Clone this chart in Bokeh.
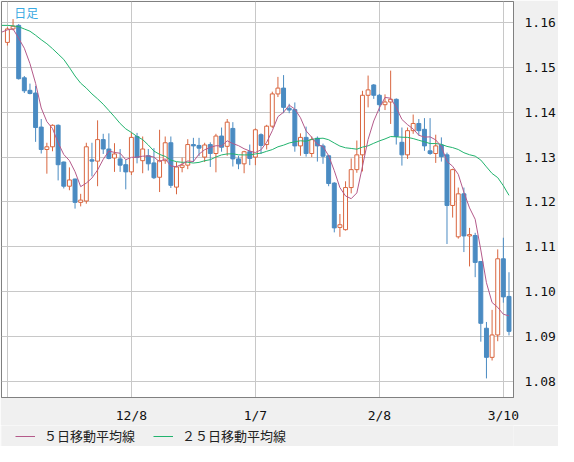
import numpy as np
from bokeh.plotting import figure
from bokeh.layouts import column
from bokeh.models import (ColumnDataSource, Range1d, FixedTicker, Legend,
                          LegendItem, Label)
from bokeh.embed import file_html
from bokeh.resources import INLINE

# ---- data (daily candles) ----
opens = [1.1556, 1.1586, 1.1594, 1.1477, 1.1449, 1.1443, 1.1367, 1.1317, 1.1323, 1.1371,
         1.1289, 1.1235, 1.1251, 1.1199, 1.1202, 1.1294, 1.1291, 1.1339, 1.1318, 1.1298,
         1.1296, 1.1283, 1.1267, 1.1346, 1.1292, 1.1303, 1.1287, 1.1255, 1.1292, 1.1332,
         1.1233, 1.1277, 1.1282, 1.1328, 1.1326, 1.1300, 1.1328, 1.1308, 1.1347, 1.1324,
         1.1364, 1.1296, 1.1285, 1.1312, 1.1300, 1.1350, 1.1328, 1.1369, 1.1441, 1.1454,
         1.1409, 1.1406, 1.1325, 1.1344, 1.1308, 1.1342, 1.1325, 1.1303, 1.1242, 1.1143,
         1.1138, 1.1232, 1.1272, 1.1305, 1.1438, 1.1461, 1.1438, 1.1417, 1.1423, 1.1429,
         1.1333, 1.1305, 1.1359, 1.1375, 1.1362, 1.1314, 1.1308, 1.1327, 1.1305, 1.1192,
         1.1122, 1.1218, 1.1124, 1.1125, 1.1067, 1.0918, 1.0853, 1.0903, 1.1073, 1.0989]
highs = [1.1590, 1.1608, 1.1597, 1.1481, 1.1464, 1.1459, 1.1385, 1.1332, 1.1373, 1.1373,
         1.1290, 1.1277, 1.1252, 1.1218, 1.1332, 1.1332, 1.1382, 1.1352, 1.1353, 1.1331,
         1.1318, 1.1294, 1.1355, 1.1354, 1.1346, 1.1318, 1.1320, 1.1361, 1.1346, 1.1346,
         1.1289, 1.1299, 1.1340, 1.1343, 1.1343, 1.1332, 1.1333, 1.1352, 1.1366, 1.1385,
         1.1378, 1.1303, 1.1314, 1.1328, 1.1364, 1.1353, 1.1372, 1.1446, 1.1479, 1.1483,
         1.1419, 1.1422, 1.1353, 1.1368, 1.1346, 1.1346, 1.1330, 1.1305, 1.1244, 1.1173,
         1.1246, 1.1297, 1.1337, 1.1448, 1.1482, 1.1463, 1.1441, 1.1440, 1.1493, 1.1431,
         1.1366, 1.1366, 1.1395, 1.1385, 1.1387, 1.1387, 1.1350, 1.1344, 1.1310, 1.1274,
         1.1232, 1.1232, 1.1142, 1.1131, 1.1067, 1.0932, 1.0959, 1.1094, 1.1120, 1.1043]
lows = [1.1549, 1.1583, 1.1473, 1.1443, 1.1440, 1.1334, 1.1308, 1.1263, 1.1313, 1.1248,
        1.1230, 1.1226, 1.1185, 1.1190, 1.1196, 1.1257, 1.1235, 1.1307, 1.1295, 1.1267,
        1.1267, 1.1228, 1.1260, 1.1286, 1.1264, 1.1270, 1.1251, 1.1222, 1.1285, 1.1231,
        1.1217, 1.1266, 1.1273, 1.1289, 1.1302, 1.1289, 1.1278, 1.1266, 1.1312, 1.1303,
        1.1279, 1.1273, 1.1264, 1.1282, 1.1282, 1.1307, 1.1317, 1.1365, 1.1434, 1.1398,
        1.1398, 1.1312, 1.1303, 1.1301, 1.1300, 1.1290, 1.1285, 1.1235, 1.1132, 1.1122,
        1.1136, 1.1219, 1.1265, 1.1268, 1.1411, 1.1430, 1.1402, 1.1405, 1.1374, 1.1328,
        1.1281, 1.1296, 1.1352, 1.1348, 1.1314, 1.1305, 1.1287, 1.1290, 1.1106, 1.1165,
        1.1118, 1.1088, 1.1056, 1.1032, 1.0888, 1.0806, 1.0846, 1.0889, 1.0975, 1.0902]
closes = [1.1586, 1.1592, 1.1475, 1.1448, 1.1442, 1.1366, 1.1317, 1.1323, 1.1371, 1.1283,
          1.1235, 1.1249, 1.1199, 1.1204, 1.1323, 1.1291, 1.1339, 1.1318, 1.1297, 1.1307,
          1.1282, 1.1267, 1.1344, 1.1299, 1.1318, 1.1285, 1.1254, 1.1292, 1.1332, 1.1237,
          1.1278, 1.1282, 1.1328, 1.1325, 1.1320, 1.1327, 1.1308, 1.1347, 1.1322, 1.1378,
          1.1296, 1.1285, 1.1312, 1.1297, 1.1361, 1.1326, 1.1369, 1.1441, 1.1454, 1.1411,
          1.1405, 1.1325, 1.1344, 1.1308, 1.1339, 1.1325, 1.1302, 1.1241, 1.1142, 1.1149,
          1.1232, 1.1272, 1.1305, 1.1438, 1.1450, 1.1438, 1.1417, 1.1423, 1.1429, 1.1346,
          1.1305, 1.1359, 1.1375, 1.1359, 1.1325, 1.1308, 1.1325, 1.1301, 1.1192, 1.1272,
          1.1218, 1.1124, 1.1127, 1.1065, 1.0929, 1.0853, 1.0903, 1.1073, 1.0988, 1.0911]

# moving-average values read from the picture where the earlier closes are off-chart
# (candle index -1 .. 3 for the 5-day line, -1 .. 23 for the 25-day line)
ma5_head = [1.1579, 1.1584, 1.1586, 1.1565, 1.1543]
ma25_head = [1.1594, 1.1594, 1.1593, 1.1591, 1.1586, 1.1581, 1.1572, 1.1562, 1.1553,
             1.1542, 1.1530, 1.1518, 1.1500, 1.1481, 1.1465, 1.1454, 1.1441, 1.1430,
             1.1418, 1.1404, 1.1390, 1.1375, 1.1363, 1.1355, 1.1346]

tick_idx = [0, 22, 44, 66, 88]
tick_labels = ["", "12/8", "1/7", "2/8", "3/10"]
price_ticks = [1.08, 1.09, 1.10, 1.11, 1.12, 1.13, 1.14, 1.15, 1.16]
legend_labels = ["５日移動平均線", "２５日移動平均線"]

ORANGE = "#d9663f"
BLUE = "#4a8bc2"
PINK = "#b45a8a"
GREEN = "#22b36e"
PANEL = "#f0f0f0"

# ---- derived ----
n = len(closes)
idx = np.arange(n)
o = np.array(opens); h = np.array(highs); l = np.array(lows); c = np.array(closes)
up = c >= o
top = np.maximum(o, c); bot = np.minimum(o, c)

def src(mask):
    return ColumnDataSource(dict(x=idx[mask], h=h[mask], l=l[mask],
                                 top=top[mask], bot=bot[mask]))

up_src, dn_src = src(up), src(~up)

ma5 = list(ma5_head) + [float(np.mean(c[i - 4:i + 1])) for i in range(4, n)]
ma25 = list(ma25_head) + [float(np.mean(c[i - 24:i + 1])) for i in range(24, n)]
ma_x = list(range(-1, n))

# ---- main chart ----
p = figure(width=558, height=425, x_range=Range1d(-1.05, 89.8),
           y_range=Range1d(1.07634, 1.16473), y_axis_location="right",
           output_backend="svg", toolbar_location=None,
           min_border_left=1, min_border_top=1, min_border_right=40,
           min_border_bottom=24)
p.background_fill_color = "white"
p.border_fill_color = PANEL
p.outline_line_color = "#808080"
p.outline_line_width = 1

p.xaxis.ticker = FixedTicker(ticks=tick_idx)
p.xgrid.ticker = FixedTicker(ticks=tick_idx)
p.xaxis.major_label_overrides = {t: s for t, s in zip(tick_idx, tick_labels)}
p.yaxis.ticker = FixedTicker(ticks=price_ticks)
p.ygrid.ticker = FixedTicker(ticks=price_ticks)
p.yaxis.major_label_overrides = {t: f"{t:.2f}" for t in price_ticks}

for ax in (p.xaxis[0], p.yaxis[0]):
    ax.major_tick_line_color = None
    ax.minor_tick_line_color = None
    ax.axis_line_color = "#808080"
    ax.major_label_text_font = "DejaVu Sans Mono"
    ax.major_label_text_font_size = "13px"
    ax.major_label_text_color = "#111111"
p.xaxis.major_label_standoff = 4
p.yaxis.major_label_standoff = 5

for g in (p.xgrid[0], p.ygrid[0]):
    g.grid_line_color = "#c8c8c8"
    g.grid_line_width = 1

# candles
p.segment(x0="x", y0="h", x1="x", y1="l", source=up_src, line_color=ORANGE, line_width=1)
p.vbar(x="x", width=0.7, top="top", bottom="bot", source=up_src,
       fill_color="white", line_color=ORANGE, line_width=1)
p.segment(x0="x", y0="h", x1="x", y1="l", source=dn_src, line_color=BLUE, line_width=1)
p.vbar(x="x", width=0.7, top="top", bottom="bot", source=dn_src,
       fill_color=BLUE, line_color=BLUE, line_width=1)

p.line(ma_x, ma25, line_color=GREEN, line_width=1)
p.line(ma_x, ma5, line_color=PINK, line_width=1)

p.add_layout(Label(x=1.2, y=1.1641, text="日足", text_color="#3aaae2",
                   text_font="Noto Sans CJK JP", text_font_size="12px",
                   text_baseline="top"))

# ---- legend strip below the chart ----
q = figure(width=558, height=21, x_range=Range1d(0, 1), y_range=Range1d(0, 1),
           x_axis_type=None, y_axis_type=None, output_backend="svg",
           toolbar_location=None, min_border=0)
q.background_fill_color = PANEL
q.border_fill_color = PANEL
q.outline_line_color = None
q.xgrid.visible = False
q.ygrid.visible = False
# legend keys only: a single missing point, so nothing is drawn in the strip itself
k5 = q.line(x=[np.nan], y=[np.nan], line_color=PINK, line_width=1)
k25 = q.line(x=[np.nan], y=[np.nan], line_color=GREEN, line_width=1)
legend = Legend(items=[LegendItem(label=legend_labels[0], renderers=[k5]),
                       LegendItem(label=legend_labels[1], renderers=[k25])],
                orientation="horizontal", location=(14, 1),
                label_text_font="Noto Sans CJK JP", label_text_font_size="13px",
                label_text_color="#222222", glyph_width=20, glyph_height=12,
                label_standoff=9, spacing=18, padding=0, margin=0,
                border_line_color=None, background_fill_alpha=0)
q.add_layout(legend, "center")

page = column(p, q, spacing=0)
open("out.html", "w").write(file_html(page, INLINE))
